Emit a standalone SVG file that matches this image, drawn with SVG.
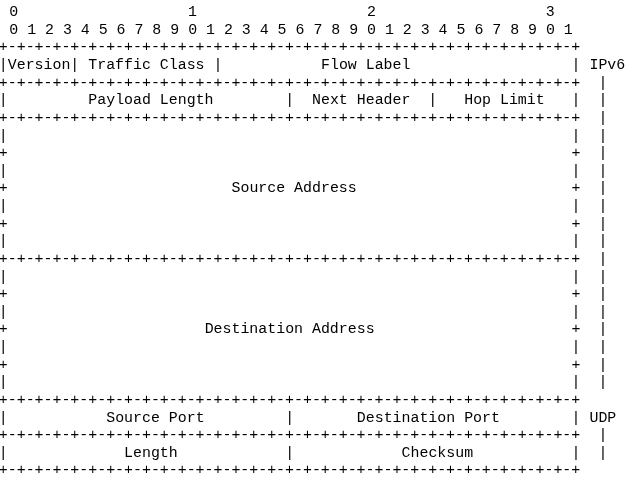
<svg xmlns="http://www.w3.org/2000/svg" xmlns:xlink="http://www.w3.org/1999/xlink" width="633" height="482" viewBox="0 0 633 482">
<style>
.t{font-family:"Liberation Mono","Courier New",monospace;font-size:14.92px;fill:#000;white-space:pre}
</style>
<defs>
<filter id="gray" x="0" y="0" width="633" height="482" filterUnits="userSpaceOnUse"><feColorMatrix type="saturate" values="0"/></filter>
<text id="rule" class="t" x="-1.2" y="0" xml:space="preserve">+-+-+-+-+-+-+-+-+-+-+-+-+-+-+-+-+-+-+-+-+-+-+-+-+-+-+-+-+-+-+-+-+</text>
<text id="bar" class="t" x="0" y="0">|</text>
<text id="plus" class="t" x="0" y="0">+</text>
</defs>
<rect width="633" height="482" fill="#fff"/>
<g filter="url(#gray)">
<rect width="633" height="482" fill="#fff"/>
<g id="bit-ruler">
<text class="t" x="9.25" y="16.1">0</text>
<text class="t" x="188" y="16.1">1</text>
<text class="t" x="366.9" y="16.1">2</text>
<text class="t" x="545.8" y="16.1">3</text>
<text class="t" x="9.25" y="33.73" xml:space="preserve">0 1 2 3 4 5 6 7 8 9 0 1 2 3 4 5 6 7 8 9 0 1 2 3 4 5 6 7 8 9 0 1</text>
</g>
<g id="connectors">
<use xlink:href="#rule" y="51.36"/>
<use xlink:href="#rule" y="86.62"/>
<use xlink:href="#rule" y="121.88"/>
<use xlink:href="#rule" y="262.92"/>
<use xlink:href="#rule" y="403.96"/>
<use xlink:href="#rule" y="439.22"/>
<use xlink:href="#rule" y="474.48"/>
</g>
<g id="ipv6-row1">
<text class="t" x="-1.2" y="68.99" xml:space="preserve">|Version| Traffic Class |</text>
<text class="t" x="321.0" y="68.99">Flow Label</text>
<text class="t" x="571.6" y="68.99" xml:space="preserve">| IPv6</text>
</g>
<g id="ipv6-row2">
<use xlink:href="#bar" x="-1.2" y="104.25"/>
<text class="t" x="88.3" y="104.25">Payload Length</text>
<text class="t" x="285.2" y="104.25" xml:space="preserve">|  Next Header  |</text>
<text class="t" x="464.2" y="104.25">Hop Limit</text>
<use xlink:href="#bar" x="571.6" y="104.25"/>
</g>
<g id="source-address">
<use xlink:href="#bar" x="-1.2" y="139.51"/><use xlink:href="#bar" x="571.6" y="139.51"/>
<use xlink:href="#plus" x="-1.2" y="157.14"/><use xlink:href="#plus" x="571.6" y="157.14"/>
<use xlink:href="#bar" x="-1.2" y="174.77"/><use xlink:href="#bar" x="571.6" y="174.77"/>
<use xlink:href="#plus" x="-1.2" y="192.4"/><use xlink:href="#plus" x="571.6" y="192.4"/>
<text class="t" x="231.5" y="192.4">Source Address</text>
<use xlink:href="#bar" x="-1.2" y="210.03"/><use xlink:href="#bar" x="571.6" y="210.03"/>
<use xlink:href="#plus" x="-1.2" y="227.66"/><use xlink:href="#plus" x="571.6" y="227.66"/>
<use xlink:href="#bar" x="-1.2" y="245.29"/><use xlink:href="#bar" x="571.6" y="245.29"/>
</g>
<g id="destination-address">
<use xlink:href="#bar" x="-1.2" y="280.55"/><use xlink:href="#bar" x="571.6" y="280.55"/>
<use xlink:href="#plus" x="-1.2" y="298.18"/><use xlink:href="#plus" x="571.6" y="298.18"/>
<use xlink:href="#bar" x="-1.2" y="315.81"/><use xlink:href="#bar" x="571.6" y="315.81"/>
<use xlink:href="#plus" x="-1.2" y="333.44"/><use xlink:href="#plus" x="571.6" y="333.44"/>
<text class="t" x="204.65" y="333.44">Destination Address</text>
<use xlink:href="#bar" x="-1.2" y="351.07"/><use xlink:href="#bar" x="571.6" y="351.07"/>
<use xlink:href="#plus" x="-1.2" y="368.7"/><use xlink:href="#plus" x="571.6" y="368.7"/>
<use xlink:href="#bar" x="-1.2" y="386.33"/><use xlink:href="#bar" x="571.6" y="386.33"/>
</g>
<g id="ipv6-bracket">
<use xlink:href="#bar" x="598.45" y="86.62"/>
<use xlink:href="#bar" x="598.45" y="104.25"/>
<use xlink:href="#bar" x="598.45" y="121.88"/>
<use xlink:href="#bar" x="598.45" y="139.51"/>
<use xlink:href="#bar" x="598.45" y="157.14"/>
<use xlink:href="#bar" x="598.45" y="174.77"/>
<use xlink:href="#bar" x="598.45" y="192.4"/>
<use xlink:href="#bar" x="598.45" y="210.03"/>
<use xlink:href="#bar" x="598.45" y="227.66"/>
<use xlink:href="#bar" x="598.45" y="245.29"/>
<use xlink:href="#bar" x="598.45" y="262.92"/>
<use xlink:href="#bar" x="598.45" y="280.55"/>
<use xlink:href="#bar" x="598.45" y="298.18"/>
<use xlink:href="#bar" x="598.45" y="315.81"/>
<use xlink:href="#bar" x="598.45" y="333.44"/>
<use xlink:href="#bar" x="598.45" y="351.07"/>
<use xlink:href="#bar" x="598.45" y="368.7"/>
<use xlink:href="#bar" x="598.45" y="386.33"/>
</g>
<g id="udp-row1">
<use xlink:href="#bar" x="-1.2" y="421.59"/>
<text class="t" x="106.2" y="421.59">Source Port</text>
<use xlink:href="#bar" x="285.2" y="421.59"/>
<text class="t" x="356.8" y="421.59">Destination Port</text>
<text class="t" x="571.6" y="421.59" xml:space="preserve">| UDP</text>
</g>
<g id="udp-row2">
<use xlink:href="#bar" x="-1.2" y="456.85"/>
<text class="t" x="124.1" y="456.85">Length</text>
<use xlink:href="#bar" x="285.2" y="456.85"/>
<text class="t" x="401.55" y="456.85">Checksum</text>
<use xlink:href="#bar" x="571.6" y="456.85"/>
</g>
<g id="udp-bracket">
<use xlink:href="#bar" x="598.45" y="439.22"/>
<use xlink:href="#bar" x="598.45" y="456.85"/>
</g>
</g>
</svg>
